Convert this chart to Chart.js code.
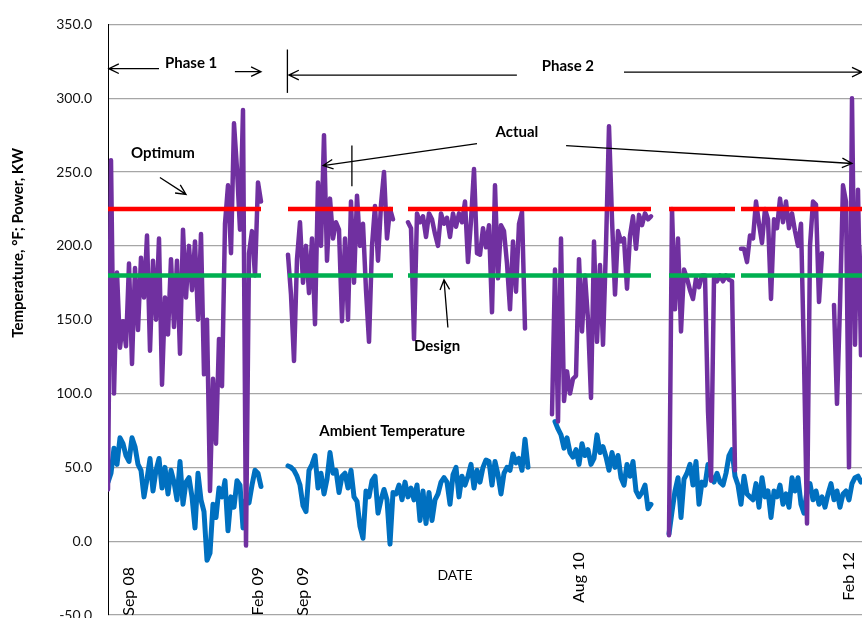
<!DOCTYPE html>
<html>
<head>
<meta charset="utf-8">
<script src="https://cdn.jsdelivr.net/npm/chart.js@4.4.1/dist/chart.umd.min.js"></script>
<style>
  html, body { margin: 0; padding: 0; background: #fff; overflow: hidden; }
  #wrap { width: 862px; height: 618px; overflow: hidden; }
</style>
</head>
<body>
<div id="wrap"><canvas id="chart" width="880" height="640"></canvas></div>
<script>
// day slots on the date axis (gaps are missing data)
var slotCount = 255;

// tick labels on the date axis and the slot they sit on
var dateLabels = ['Sep 08', 'Feb 09', 'Sep 09', 'Aug 10', 'Feb 12'];
var dateLabelSlot = [7, 50, 65, 157, 247];

// reference lines, KW
var optimumKW = 225;
var designKW = 180;
var referenceRuns = [[0, 51], [60, 95], [100, 181], [187, 209], [211, 254]];

// actual power, KW (each run starts at the slot given in actualStarts)
var actualP1 = [35, 258, 100, 182, 131, 149, 132, 188, 120, 185, 143, 192, 165, 207, 129, 190, 150, 205, 106, 165,
  140, 191, 145, 190, 127, 211, 165, 200, 170, 203, 150, 208, 113, 150, 34, 110, 66, 137, 105, 215,
  241, 195, 283, 252, 211, 292, -3, 195, 210, 180, 243, 230];
var actualP2a = [194, 167, 122, 191, 216, 175, 200, 168, 205, 147, 243, 200, 275, 190, 232, 205, 216, 211, 149, 205,
  150, 230, 175, 234, 200, 215, 170, 135, 200, 227, 190, 228, 250, 205, 225, 218];
var actualP2b = [216, 212, 137, 222, 216, 220, 206, 222, 218, 208, 200, 222, 215, 219, 206, 222, 213, 222, 216, 230,
  189, 217, 252, 195, 194, 212, 199, 214, 155, 241, 178, 214, 210, 188, 157, 203, 169, 215, 223, 144];
var actualP2c = [86, 184, 81, 205, 95, 115, 100, 110, 112, 191, 142, 180, 150, 97, 203, 135, 187, 133, 200, 281,
  218, 167, 210, 203, 205, 171, 207, 220, 198, 221, 214, 222, 218, 220];
var actualP2d = [4, 225, 157, 205, 142, 184, 178, 170, 164, 178, 172, 180, 180, 88, 41, 178, 176, 180, 176, 180,
  177, 176, 48];
var actualP2e = [198, 198, 189, 207, 205, 230, 215, 202, 225, 218, 164, 218, 212, 232, 216, 230, 212, 222, 210, 200,
  215, 124, 12, 200, 230, 228, 162, 195, null, null, null, 160, 93, 160, 241, 230, 50, 300, 133, 238,
  126, 200];
var actualStarts = [0, 60, 100, 148, 187, 211];

// ambient temperature, F
var ambientP1 = [40, 46, 63, 52, 70, 66, 58, 54, 70, 64, 52, 48, 30, 42, 56, 34, 48, 56, 36, 50,
  32, 48, 40, 28, 54, 25, 40, 43, 30, 9, 46, 28, 20, -13, -8, 25, 16, 36, 30, 41,
  7, 30, 23, 41, 38, 9, 28, 26, 38, 48, 46, 37];
var ambientP2a = [51, 50, 48, 44, 38, 24, 20, 48, 52, 58, 36, 46, 32, 42, 60, 46, 48, 33, 44, 46,
  36, 48, 30, 27, 10, 2, 34, 30, 41, 44, 19, 28, 35, 28, -2, 33, 32, 38, 28, 40,
  30, 36, 28, 38, 14, 34, 12, 33, 14, 28, 32, 40, 43, 40, 25, 45, 50, 30, 44, 38,
  44, 52, 36, 48, 40, 50, 55, 54, 38, 54, 45, 32, 46, 50, 48, 59, 53, 56, 48, 69, 50];
var ambientP2b = [81, 76, 72, 63, 70, 60, 57, 62, 52, 66, 58, 62, 52, 56, 72, 60, 64, 57, 48, 60,
  50, 58, 43, 38, 52, 44, 54, 34, 30, 33, 38, 22, 25];
var ambientP2c = [5, 20, 34, 43, 16, 42, 46, 52, 38, 54, 25, 40, 38, 52, 44, 40, 46, 40, 38, 46,
  58, 62, 44, 38, 25, 44, 32, 30, 28, 39, 23, 43, 30, 34, 16, 34, 30, 38, 25, 32,
  23, 43, 34, 43, 25, 19, 34, 39, 28, 34, 25, 30, 23, 32, 39, 28, 34, 23, 32, 34,
  28, 39, 43, 44, 40, 42];
var ambientStarts = [0, 60, 149, 187];

function emptySlots() {
  var out = [];
  for (var i = 0; i < slotCount; i++) out.push(null);
  return out;
}

function placeRuns(runs, starts) {
  var out = emptySlots();
  runs.forEach(function (run, r) {
    run.forEach(function (v, i) { out[starts[r] + i] = v; });
  });
  return toPoints(out);
}

function referenceLine(value) {
  var out = emptySlots();
  referenceRuns.forEach(function (run) {
    for (var i = run[0]; i <= run[1]; i++) out[i] = value;
  });
  return toPoints(out);
}

function toPoints(arr) {
  return arr.map(function (v, i) { return { x: i, y: v }; });
}

var FONT = 'Lato, "Open Sans", sans-serif';

function arrow(ctx, x1, y1, x2, y2) {
  var a = Math.atan2(y2 - y1, x2 - x1), h = 11, s = 0.45;
  ctx.beginPath();
  ctx.moveTo(x1, y1); ctx.lineTo(x2, y2);
  ctx.moveTo(x2 - h * Math.cos(a - s), y2 - h * Math.sin(a - s));
  ctx.lineTo(x2, y2);
  ctx.lineTo(x2 - h * Math.cos(a + s), y2 - h * Math.sin(a + s));
  ctx.stroke();
}

var overlay = {
  id: 'overlay',
  afterDatasetsDraw: function (chart) {
    var ctx = chart.ctx, xs = chart.scales.x, ys = chart.scales.y;
    var X = function (v) { return xs.getPixelForValue(v); };
    var Y = function (v) { return ys.getPixelForValue(v); };
    ctx.save();
    ctx.fillStyle = '#000';
    ctx.strokeStyle = '#000';
    ctx.lineWidth = 1.3;

    // date labels, rotated, inside the plot
    var labelTops = [-17.5, -17.5, -17.5, -7.5, -7.5];
    ctx.font = '16px ' + FONT;
    ctx.textAlign = 'right';
    ctx.textBaseline = 'middle';
    dateLabels.forEach(function (t, i) {
      ctx.save();
      ctx.translate(X(dateLabelSlot[i]), Y(labelTops[i]));
      ctx.rotate(-Math.PI / 2);
      ctx.fillText(t, 0, 0);
      ctx.restore();
    });

    ctx.textAlign = 'center';
    ctx.font = '14px ' + FONT;
    ctx.fillText('DATE', X(115.7), Y(-23));

    // axis title
    ctx.save();
    ctx.font = 'bold 15px ' + FONT;
    ctx.translate(18, Y(202));
    ctx.rotate(-Math.PI / 2);
    ctx.fillText('Temperature, \u00B0F; Power, KW', 0, 0);
    ctx.restore();

    // phase markers
    ctx.font = 'bold 15px ' + FONT;
    ctx.fillText('Phase 1', X(27.7), Y(324));
    ctx.fillText('Phase 2', X(153.3), Y(322));
    arrow(ctx, X(17), Y(320), X(0.3), Y(320));
    arrow(ctx, X(42.3), Y(318), X(51), Y(318));
    ctx.beginPath();
    ctx.moveTo(X(59.8), Y(333)); ctx.lineTo(X(59.8), Y(303.6));
    ctx.stroke();
    arrow(ctx, X(136.3), Y(315.7), X(60.3), Y(315.7));
    arrow(ctx, X(172), Y(317.7), X(251.3), Y(317.7));

    // series callouts
    ctx.fillText('Actual', X(136.3), Y(277.3));
    arrow(ctx, X(123), Y(269.2), X(71.7), Y(254.4));
    arrow(ctx, X(152.7), Y(267.9), X(248), Y(255.8));
    ctx.beginPath();
    ctx.moveTo(X(81.3), Y(267.9)); ctx.lineTo(X(81.3), Y(240.3));
    ctx.stroke();

    ctx.fillText('Optimum', X(18.3), Y(262.5));
    arrow(ctx, X(17.3), Y(246.3), X(26), Y(234.9));

    ctx.fillText('Design', X(109.7), Y(131.9));
    arrow(ctx, X(113.3), Y(144.7), X(112), Y(177));

    ctx.fillText('Ambient Temperature', X(94.7), Y(74.7));
    ctx.restore();
  }
};

Chart.defaults.font.family = FONT;

new Chart(document.getElementById('chart'), {
  type: 'line',
  data: {
    datasets: [
      {
        label: 'Optimum',
        data: referenceLine(optimumKW),
        borderColor: '#FF0000',
        borderWidth: 4.5,
        borderCapStyle: 'butt'
      },
      {
        label: 'Design',
        data: referenceLine(designKW),
        borderColor: '#00B050',
        borderWidth: 4.5,
        borderCapStyle: 'butt'
      },
      {
        label: 'Actual',
        data: placeRuns([actualP1, actualP2a, actualP2b, actualP2c, actualP2d, actualP2e], actualStarts),
        borderColor: '#7030A0',
        borderWidth: 4.5,
        borderJoinStyle: 'round',
        borderCapStyle: 'round'
      },
      {
        label: 'Ambient Temperature',
        data: placeRuns([ambientP1, ambientP2a, ambientP2b, ambientP2c], ambientStarts),
        borderColor: '#0070C0',
        borderWidth: 5,
        borderJoinStyle: 'round',
        borderCapStyle: 'round'
      }
    ]
  },
  options: {
    responsive: false,
    animation: false,
    spanGaps: false,
    elements: {
      point: { radius: 0 },
      line: { tension: 0 }
    },
    layout: {
      padding: { left: 0, right: 10, top: 18, bottom: 25 }
    },
    plugins: {
      legend: { display: false },
      tooltip: { enabled: false }
    },
    scales: {
      x: {
        type: 'linear',
        display: false,
        min: 0,
        max: slotCount - 1
      },
      y: {
        min: -50,
        max: 350,
        afterFit: function (scale) { scale.width = 108; },
        border: { color: '#000', width: 1 },
        grid: {
          color: '#a6a6a6',
          lineWidth: 1.2,
          drawTicks: false
        },
        ticks: {
          stepSize: 50,
          padding: 16,
          color: '#111',
          font: { size: 14 },
          callback: function (v) { return v.toFixed(1); }
        }
      }
    }
  },
  plugins: [overlay]
});
</script>
</body>
</html>
